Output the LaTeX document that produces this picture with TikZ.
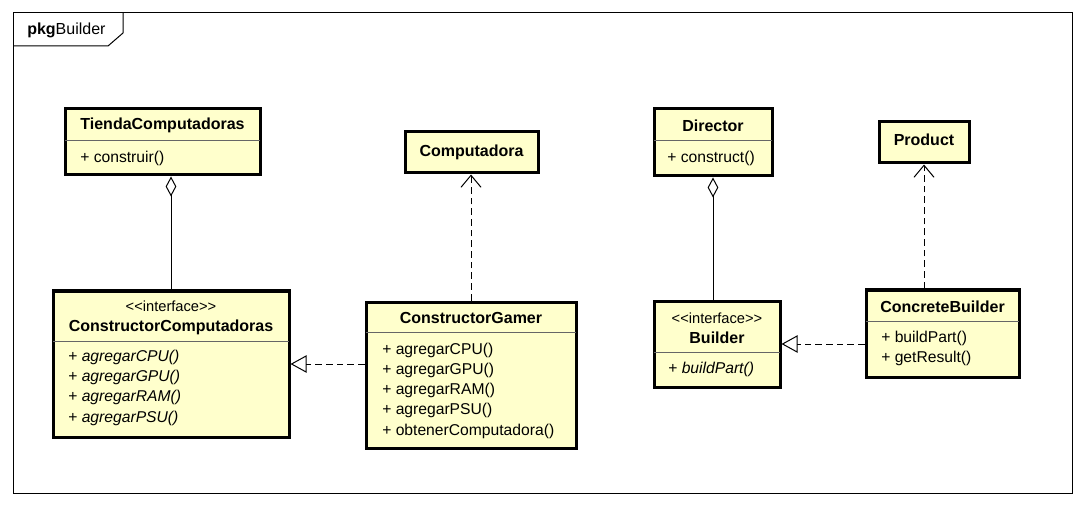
\documentclass[tikz,border=0pt]{standalone}
\usepackage{fontspec}
\setmainfont{Liberation Sans}
\usetikzlibrary{arrows.meta,fit}
\definecolor{umlfill}{RGB}{255,255,204}
\tikzset{
  classbox/.style={draw, line width=2.25pt, fill=umlfill, inner sep=0pt},
  divider/.style={black!60, line width=0.75pt},
  title/.style={font=\bfseries\fontsize{12}{14}\selectfont, inner sep=0pt},
  member/.style={anchor=west, font=\fontsize{11.75}{14}\selectfont, inner sep=0pt},
  stereo/.style={font=\fontsize{11}{13}\selectfont, inner sep=0pt},
  aggr/.style={line width=0.75pt, -{Diamond[open, length=15pt, width=8pt]}},
  realize/.style={dash pattern=on 5pt off 3pt, line width=0.75pt, -{Triangle[open, length=12pt, width=13pt]}},
  depend/.style={dash pattern=on 5pt off 3pt, line width=0.75pt, -{Straight Barb[length=9pt, width=15pt]}},
}
\begin{document}
\begin{tikzpicture}[x=0.75pt, y=-0.75pt]
    \useasboundingbox (0,0) rectangle (1086,506);
\draw[line width=0.75pt] (13,13) rectangle (1072,493);
\draw[line width=0.75pt] (13,46) -- (108,46) -- (123,33) -- (123,13);
\node[member, font=\fontsize{12}{14}\selectfont] (pkg) at (27,30) {\textbf{pkg}Builder};
    % left side
\node[classbox, fit={(65,109) (260,175)}] (tienda) {};
\draw[divider] (65,141) -- (260,141);
\node[title] (tiendaT) at (162.5,125) {TiendaComputadoras};
\node[member] (tiendaM) at (80,158) {+ construir()};
\node[classbox, fit={(53,291) (289,437)}] (ccomp) {};
\draw[divider] (53,341) -- (289,341);
\node[stereo] (ccompS) at (171,306) {<{}<interface>{}>};
\node[title] (ccompT) at (171,327) {ConstructorComputadoras};
\node[member] (ccompA) at (68,357) {+ \textit{agregarCPU()}};
\node[member] (ccompB) at (68,377) {+ \textit{agregarGPU()}};
\node[member] (ccompC) at (68,397) {+ \textit{agregarRAM()}};
\node[member] (ccompD) at (68,418) {+ \textit{agregarPSU()}};
\node[classbox, fit={(405,132) (538,173)}] (comp) {};
\node[title] (compT) at (471.5,152) {Computadora};
\node[classbox, fit={(366,302) (576,448)}] (cgamer) {};
\draw[divider] (366,332) -- (576,332);
\node[title] (cgamerT) at (471,318) {ConstructorGamer};
\node[member] (cgamerA) at (382,350) {+ agregarCPU()};
\node[member] (cgamerB) at (382,370) {+ agregarGPU()};
\node[member] (cgamerC) at (382,390) {+ agregarRAM()};
\node[member] (cgamerD) at (382,410) {+ agregarPSU()};
\node[member] (cgamerE) at (382,431) {+ obtenerComputadora()};
    % right side
\node[classbox, fit={(654,109) (772,176)}] (director) {};
\draw[divider] (654,141) -- (772,141);
\node[title] (directorT) at (713,126) {Director};
\node[member] (directorM) at (667,158) {+ construct()};
\node[classbox, fit={(879,122) (969,163)}] (product) {};
\node[title] (productT) at (924,140) {Product};
\node[classbox, fit={(654,301) (780,387)}] (builder) {};
\draw[divider] (654,352) -- (780,352);
\node[stereo] (builderS) at (717,318) {<{}<interface>{}>};
\node[title] (builderT) at (717,338) {Builder};
\node[member] (builderM) at (668,369) {+ \textit{buildPart()}};
\node[classbox, fit={(866,290) (1019,377)}] (cbuilder) {};
\draw[divider] (866,321) -- (1019,321);
\node[title] (cbuilderT) at (942.5,307) {ConcreteBuilder};
\node[member] (cbuilderA) at (881,338) {+ buildPart()};
\node[member] (cbuilderB) at (881,358) {+ getResult()};
    % connectors
\draw[aggr] (ccomp.north) -- (ccomp.north |- tienda.south);
\draw[realize] (ccomp.east -| cgamer.west) -- (ccomp.east);
\draw[depend] (cgamer.north) -- (cgamer.north |- comp.south);
\draw[aggr] (director.south |- builder.north) -- (director.south);
\draw[realize] (builder.east -| cbuilder.west) -- (builder.east);
\draw[depend] (product.south |- cbuilder.north) -- (product.south);
    \end{tikzpicture}
\end{document}
